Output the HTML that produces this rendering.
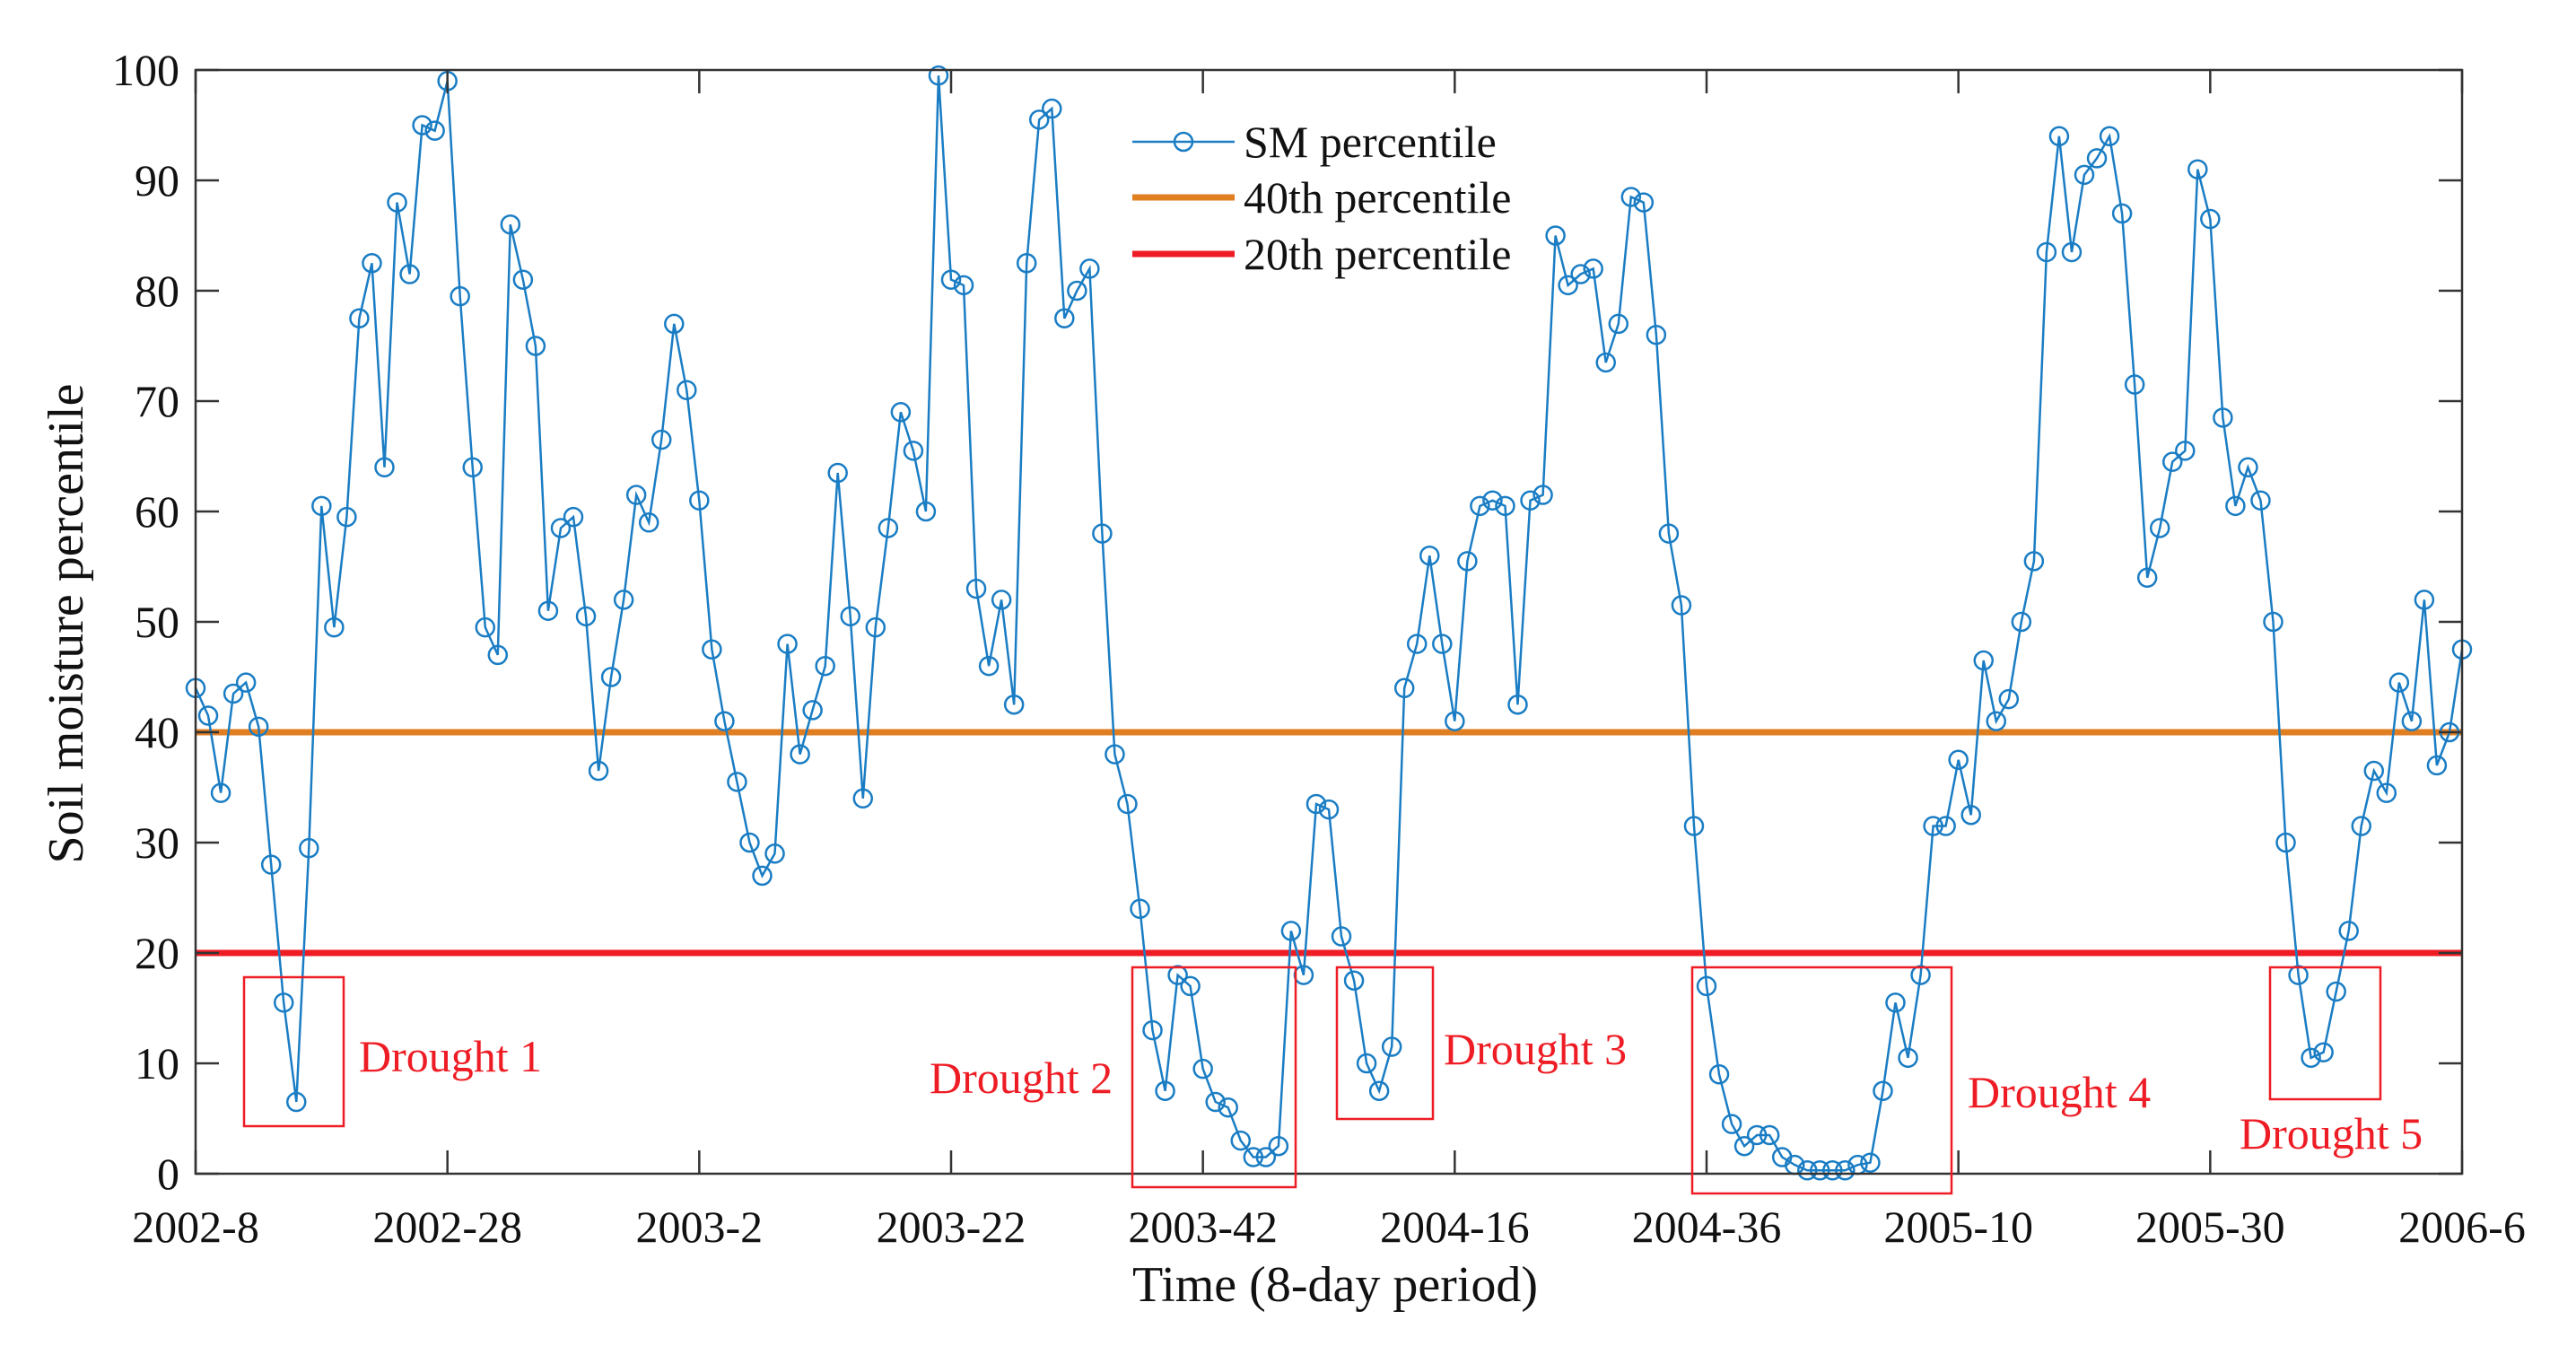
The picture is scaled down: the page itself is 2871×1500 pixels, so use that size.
<!DOCTYPE html>
<html><head><meta charset="utf-8"><style>
html,body{margin:0;padding:0;background:#fff;}
svg{display:block;font-family:"Liberation Serif",serif;}
</style></head><body>
<svg id="chart" width="2871" height="1500" viewBox="0 0 2871 1500" xmlns="http://www.w3.org/2000/svg">
<g id="grid"></g>
<g id="series"></g>
<g id="axes"></g>
<g id="annot"></g>
<g id="legend"></g>
</svg>
<script>
const xTickLabels = ["2002-8","2002-28","2003-2","2003-22","2003-42","2004-16","2004-36","2005-10","2005-30","2006-6"];
const yTicks = [0,10,20,30,40,50,60,70,80,90,100];
const thresholds40 = [40];
const thresholds20 = [20];
const smValues = [44,41.5,34.5,43.5,44.5,40.5,28,15.5,6.5,29.5,60.5,49.5,59.5,77.5,82.5,64,88,81.5,95,94.5,99,79.5,64,49.5,47,86,81,75,51,58.5,59.5,50.5,36.5,45,52,61.5,59,66.5,77,71,61,47.5,41,35.5,30,27,29,48,38,42,46,63.5,50.5,34,49.5,58.5,69,65.5,60,99.5,81,80.5,53,46,52,42.5,82.5,95.5,96.5,77.5,80,82,58,38,33.5,24,13,7.5,18,17,9.5,6.5,6,3,1.5,1.5,2.5,22,18,33.5,33,21.5,17.5,10,7.5,11.5,44,48,56,48,41,55.5,60.5,61,60.5,42.5,61,61.5,85,80.5,81.5,82,73.5,77,88.5,88,76,58,51.5,31.5,17,9,4.5,2.5,3.5,3.5,1.5,0.8,0.3,0.3,0.3,0.3,0.8,1,7.5,15.5,10.5,18,31.5,31.5,37.5,32.5,46.5,41,43,50,55.5,83.5,94,83.5,90.5,92,94,87,71.5,54,58.5,64.5,65.5,91,86.5,68.5,60.5,64,61,50,30,18,10.5,11,16.5,22,31.5,36.5,34.5,44.5,41,52,37,40,47.5];

const L=218,R=2744,T=78,B=1308,NP=180;
const NS="http://www.w3.org/2000/svg";
const X=i=>L+(R-L)*i/NP;
const Y=v=>B-(B-T)*v/100;
function mk(tag,attrs,parent,text){const e=document.createElementNS(NS,tag);for(const k in attrs)e.setAttribute(k,attrs[k]);if(text!==undefined)e.textContent=text;parent.appendChild(e);return e;}
const gS=document.getElementById('series'),gA=document.getElementById('axes'),gN=document.getElementById('annot'),gL=document.getElementById('legend');

thresholds40.forEach(v=>{const l=mk('line',{x1:L,x2:R,y1:Y(v),y2:Y(v),stroke:'#E07E22','stroke-width':7},gS);

});
thresholds20.forEach(v=>{const l=mk('line',{x1:L,x2:R,y1:Y(v),y2:Y(v),stroke:'#EE1C24','stroke-width':7},gS);

});

const pts=smValues.map((v,i)=>X(i).toFixed(1)+','+Y(v).toFixed(1)).join(' ');
const pl=mk('polyline',{points:pts,fill:'none',stroke:'#1A7DC4','stroke-width':2.5},gS);


smValues.forEach((v,i)=>{const c=mk('circle',{cx:X(i),cy:Y(v),r:10,fill:'none',stroke:'#1A7DC4','stroke-width':2.5},gS);

});

const box=mk('rect',{x:L,y:T,width:R-L,height:B-T,fill:'none',stroke:'#333','stroke-width':2.5},gA);


yTicks.forEach(v=>{
 mk('line',{x1:L,x2:L+26,y1:Y(v),y2:Y(v),stroke:'#333','stroke-width':2.5},gA);
 mk('line',{x1:R,x2:R-26,y1:Y(v),y2:Y(v),stroke:'#333','stroke-width':2.5},gA);
 const t=mk('text',{x:200,y:Y(v)+17,'text-anchor':'end','font-size':50,fill:'#111'},gA,String(v));
 
 
});
xTickLabels.forEach((s,i)=>{
 const x=L+(R-L)*i/(xTickLabels.length-1);
 mk('line',{x1:x,x2:x,y1:B,y2:B-26,stroke:'#333','stroke-width':2.5},gA);
 mk('line',{x1:x,x2:x,y1:T,y2:T+26,stroke:'#333','stroke-width':2.5},gA);
 const t=mk('text',{x:x,y:1384,'text-anchor':'middle','font-size':50,fill:'#111'},gA,s);
 
 
});
const xt=mk('text',{x:1488,y:1450,'text-anchor':'middle','font-size':56,fill:'#111'},gA,'Time (8-day period)');


const yt=mk('text',{x:0,y:0,'text-anchor':'middle','font-size':56,fill:'#111',transform:'translate(92,695) rotate(-90)'},gA,'Soil moisture percentile');



const boxes=[[272,1089,111,166],[1262,1078,182,245],[1490,1078,107,169],[1886,1078,289,252],[2530,1078,123,147]];
const labs=[[400,1194,'Drought 1'],[1036,1218,'Drought 2'],[1609,1186,'Drought 3'],[2193,1234,'Drought 4'],[2496,1280,'Drought 5']];
boxes.forEach((b,i)=>{const r=mk('rect',{x:b[0],y:b[1],width:b[2],height:b[3],fill:'none',stroke:'#EE1C24','stroke-width':2.5},gN);

});
labs.forEach((l,i)=>{const t=mk('text',{x:l[0],y:l[1],'font-size':50,fill:'#EE1C24'},gN,l[2]);

});

const leg=[['SM percentile','#1A7DC4',2.5,true,158],['40th percentile','#E07E22',7,false,220],['20th percentile','#EE1C24',7,false,283]];
leg.forEach((e,i)=>{
 const g=mk('g',{},gL);
 
 
 mk('line',{x1:1262,x2:1376,y1:e[4],y2:e[4],stroke:e[1],'stroke-width':e[2]},g);
 if(e[3])mk('circle',{cx:1319,cy:e[4],r:10,fill:'none',stroke:e[1],'stroke-width':2.5},g);
 mk('text',{x:1386,y:e[4]+17,'font-size':50,fill:'#111'},g,e[0]);
});
</script>
</body></html>
